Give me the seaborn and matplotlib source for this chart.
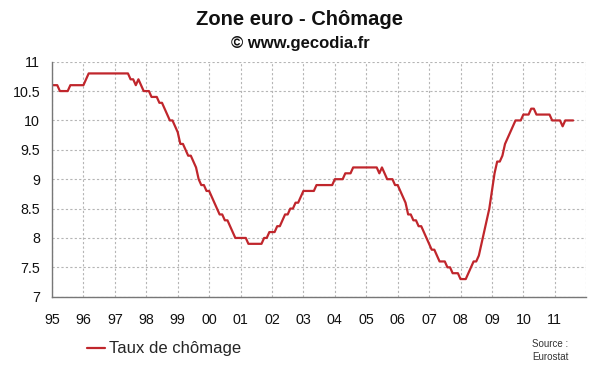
import matplotlib
matplotlib.use("Agg")
import matplotlib.pyplot as plt
import numpy as np
import pandas as pd
import seaborn as sns

# Monthly euro area unemployment rate (%), Jan 1995 - Aug 2011
y1995 = [10.6, 10.6, 10.6, 10.5, 10.5, 10.5, 10.5, 10.6, 10.6, 10.6, 10.6, 10.6]
y1996 = [10.6, 10.7, 10.8, 10.8, 10.8, 10.8, 10.8, 10.8, 10.8, 10.8, 10.8, 10.8]
y1997 = [10.8, 10.8, 10.8, 10.8, 10.8, 10.8, 10.7, 10.7, 10.6, 10.7, 10.6, 10.5]
y1998 = [10.5, 10.5, 10.4, 10.4, 10.4, 10.3, 10.3, 10.2, 10.1, 10.0, 10.0, 9.9]
y1999 = [9.8, 9.6, 9.6, 9.5, 9.4, 9.4, 9.3, 9.2, 9.0, 8.9, 8.9, 8.8]
y2000 = [8.8, 8.7, 8.6, 8.5, 8.4, 8.4, 8.3, 8.3, 8.2, 8.1, 8.0, 8.0]
y2001 = [8.0, 8.0, 8.0, 7.9, 7.9, 7.9, 7.9, 7.9, 7.9, 8.0, 8.0, 8.1]
y2002 = [8.1, 8.1, 8.2, 8.2, 8.3, 8.4, 8.4, 8.5, 8.5, 8.6, 8.6, 8.7]
y2003 = [8.8, 8.8, 8.8, 8.8, 8.8, 8.9, 8.9, 8.9, 8.9, 8.9, 8.9, 8.9]
y2004 = [9.0, 9.0, 9.0, 9.0, 9.1, 9.1, 9.1, 9.2, 9.2, 9.2, 9.2, 9.2]
y2005 = [9.2, 9.2, 9.2, 9.2, 9.2, 9.1, 9.2, 9.1, 9.0, 9.0, 9.0, 8.9]
y2006 = [8.9, 8.8, 8.7, 8.6, 8.4, 8.4, 8.3, 8.3, 8.2, 8.2, 8.1, 8.0]
y2007 = [7.9, 7.8, 7.8, 7.7, 7.6, 7.6, 7.6, 7.5, 7.5, 7.4, 7.4, 7.4]
y2008 = [7.3, 7.3, 7.3, 7.4, 7.5, 7.6, 7.6, 7.7, 7.9, 8.1, 8.3, 8.5]
y2009 = [8.8, 9.1, 9.3, 9.3, 9.4, 9.6, 9.7, 9.8, 9.9, 10.0, 10.0, 10.0]
y2010 = [10.1, 10.1, 10.1, 10.2, 10.2, 10.1, 10.1, 10.1, 10.1, 10.1, 10.1, 10.0]
y2011 = [10.0, 10.0, 10.0, 9.9, 10.0, 10.0, 10.0, 10.0]

years = list(range(1995, 2013))
year_labels = ['95', '96', '97', '98', '99', '00', '01', '02', '03', '04',
               '05', '06', '07', '08', '09', '10', '11', '']

rate = (y1995 + y1996 + y1997 + y1998 + y1999 + y2000 + y2001 + y2002 + y2003
        + y2004 + y2005 + y2006 + y2007 + y2008 + y2009 + y2010 + y2011)
t = 1995 + np.arange(len(rate)) / 12.0
df = pd.DataFrame({'t': t, 'rate': rate})

sns.set_style('white')
plt.rcParams['font.family'] = ['Liberation Sans', 'DejaVu Sans']

fig = plt.figure(figsize=(6, 3.72), dpi=100)
ax = fig.add_axes([0.0867, 0.2024, 0.8903, 0.6318])

red = '#c0262c'
sns.lineplot(data=df, x='t', y='rate', ax=ax, color=red, linewidth=1.6,
             label='Taux de chômage', legend=False)

ax.set_xlim(1995, 2012)
ax.set_ylim(7, 11)
ax.set_xticks(years)
ax.set_xticklabels(year_labels)
ax.set_yticks(np.arange(7, 11.01, 0.5))
ax.set_yticklabels(['7', '7.5', '8', '8.5', '9', '9.5', '10', '10.5', '11'])
ax.set_xlabel('')
ax.set_ylabel('')

ax.grid(True, color='#b5b5b5', linestyle=(0, (2, 2)), linewidth=0.8)
for s in ['top', 'right']:
    ax.spines[s].set_visible(False)
for s in ['left', 'bottom']:
    ax.spines[s].set_color('#777777')
    ax.spines[s].set_linewidth(1.0)
ax.tick_params(axis='both', direction='inout', width=1.0,
               color='#777777', labelsize=10.3, labelcolor='#111111')
ax.tick_params(axis='x', length=6, pad=9)
ax.tick_params(axis='y', length=5, pad=6)

fig.text(0.5, 0.948, 'Zone euro - Chômage', ha='center', va='center',
         fontsize=14.5, fontweight='bold', color='#111111')
fig.text(0.5, 0.884, '© www.gecodia.fr', ha='center', va='center',
         fontsize=12, fontweight='bold', color='#111111')

handles, labels = ax.get_legend_handles_labels()
fig.legend(handles, labels, loc='center left', bbox_to_anchor=(0.12, 0.062),
           frameon=False, fontsize=12, handlelength=1.1, handletextpad=0.2)

fig.text(0.887, 0.075, 'Source :', ha='left', va='center', fontsize=7, color='#333333')
fig.text(0.887, 0.04, 'Eurostat', ha='left', va='center', fontsize=7, color='#333333')

fig.savefig('out.png', dpi=100)
